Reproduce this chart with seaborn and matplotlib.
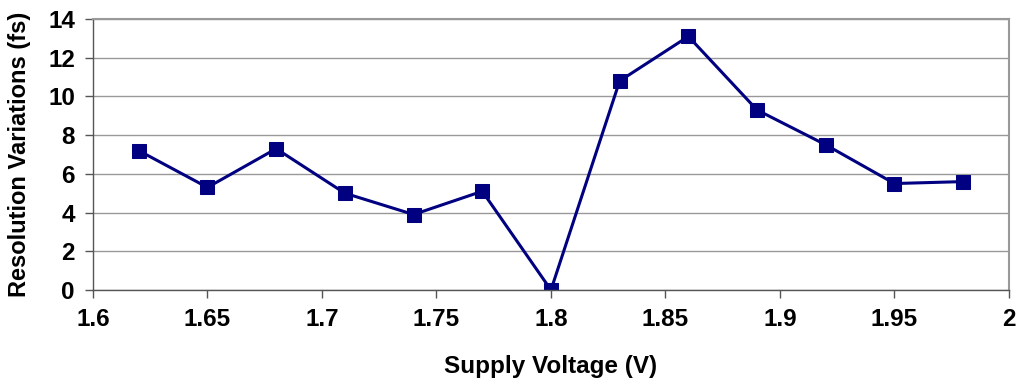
import matplotlib
matplotlib.use('Agg')
import matplotlib.pyplot as plt
import pandas as pd
import seaborn as sns

sns.set_theme(style='white')
plt.rcParams['font.family'] = ['Liberation Sans', 'DejaVu Sans']
plt.rcParams['font.weight'] = 'bold'
plt.rcParams['text.color'] = 'black'
plt.rcParams['axes.labelcolor'] = 'black'
plt.rcParams['xtick.color'] = 'black'
plt.rcParams['ytick.color'] = 'black'

voltage = [1.62, 1.65, 1.68, 1.71, 1.74, 1.77, 1.80, 1.83, 1.86, 1.89, 1.92, 1.95, 1.98]
resolution = [7.2, 5.3, 7.3, 5.0, 3.9, 5.1, 0.0, 10.8, 13.1, 9.3, 7.5, 5.5, 5.6]
x_ticks = [1.6, 1.65, 1.7, 1.75, 1.8, 1.85, 1.9, 1.95, 2.0]
x_labels = ['1.6', '1.65', '1.7', '1.75', '1.8', '1.85', '1.9', '1.95', '2']
y_ticks = [0, 2, 4, 6, 8, 10, 12, 14]

df = pd.DataFrame({'voltage': voltage, 'resolution': resolution})

fig = plt.figure(figsize=(10.24, 3.86), dpi=100)
ax = fig.add_axes([0.0908, 0.2487, 0.8945, 0.7021])

sns.lineplot(data=df, x='voltage', y='resolution', ax=ax, color='#000080',
             linewidth=2.2, marker='s', markersize=9.5, markeredgecolor='#000080')

ax.set_xlim(1.6, 2.0)
ax.set_ylim(0, 14)
ax.set_xticks(x_ticks)
ax.set_xticklabels(x_labels)
ax.set_yticks(y_ticks)
ax.yaxis.grid(True, color='#999999', linewidth=1)
ax.set_axisbelow(True)
ax.tick_params(axis='both', direction='out', length=6, width=1, color='#555555',
               labelcolor='black', labelsize=17.5, pad=7, bottom=True, left=True)
for lab in ax.get_xticklabels() + ax.get_yticklabels():
    lab.set_fontweight('bold')

for side in ['top', 'right']:
    ax.spines[side].set_color('#999999')
    ax.spines[side].set_linewidth(1.5)
for side in ['left', 'bottom']:
    ax.spines[side].set_color('#555555')
    ax.spines[side].set_linewidth(1)

ax.set_xlabel('Supply Voltage (V)', fontsize=17.5, fontweight='bold', labelpad=17)
ax.set_ylabel('Resolution Variations (fs)', fontsize=17, fontweight='bold', labelpad=12)

fig.savefig('out.png', dpi=100, facecolor='white')
